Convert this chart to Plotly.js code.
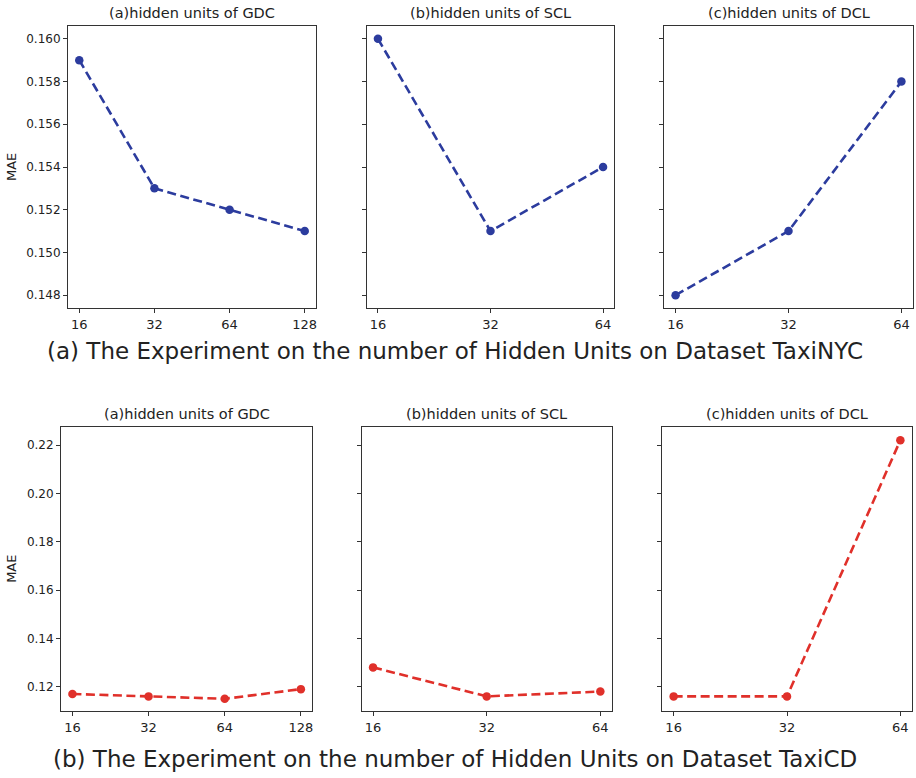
<!DOCTYPE html>
<html>
<head>
<meta charset="utf-8">
<script src="https://cdn.plot.ly/plotly-3.0.1.min.js"></script>
<style>html,body{margin:0;padding:0;background:#fff;}#chart{width:916px;height:778px;}</style>
</head>
<body>
<div id="chart"></div>
<script>
// ---- data ----
const unitsGDC = ["16", "32", "64", "128"];
const unitsSCL = ["16", "32", "64"];
const unitsDCL = ["16", "32", "64"];

const nycGDC = [0.159, 0.153, 0.152, 0.151];
const nycSCL = [0.160, 0.151, 0.154];
const nycDCL = [0.148, 0.151, 0.158];

const cdGDC = [0.117, 0.116, 0.115, 0.119];
const cdSCL = [0.128, 0.116, 0.118];
const cdDCL = [0.116, 0.116, 0.222];

const panelTitles = ["(a)hidden units of GDC", "(b)hidden units of SCL", "(c)hidden units of DCL"];
const captionA = "(a) The Experiment on the number of Hidden Units on Dataset TaxiNYC";
const captionB = "(b) The Experiment on the number of Hidden Units on Dataset TaxiCD";
const yTicksNYC = [0.148, 0.150, 0.152, 0.154, 0.156, 0.158, 0.160];
const yTicksCD = [0.12, 0.14, 0.16, 0.18, 0.20, 0.22];

// ---- layout helpers ----
const W = 916, H = 778;
const px = x => x / W;
const py = y => 1 - y / H;
const BLUE = "#2c3c9e", RED = "#e0302a";
const FONT = "DejaVu Sans";

const panels = [
  {cats: unitsGDC, vals: nycGDC, color: BLUE, xd: [68, 316], yd: [26, 308], row: 0, first: true},
  {cats: unitsSCL, vals: nycSCL, color: BLUE, xd: [366.7, 614.3], yd: [26, 308], row: 0},
  {cats: unitsDCL, vals: nycDCL, color: BLUE, xd: [664.3, 912.7], yd: [26, 308], row: 0},
  {cats: unitsGDC, vals: cdGDC, color: RED, xd: [61, 312.3], yd: [426.7, 711], row: 1, first: true},
  {cats: unitsSCL, vals: cdSCL, color: RED, xd: [361.7, 611.7], yd: [426.7, 711], row: 1},
  {cats: unitsDCL, vals: cdDCL, color: RED, xd: [662.3, 911.7], yd: [426.7, 711], row: 1}
];

const traces = [];
const layout = {
  width: W, height: H,
  margin: {l: 0, r: 0, t: 0, b: 0},
  paper_bgcolor: "#fff", plot_bgcolor: "#fff",
  showlegend: false,
  font: {family: FONT, color: "#222"},
  annotations: []
};

panels.forEach((p, i) => {
  const n = i + 1;
  const xa = n === 1 ? "x" : "x" + n;
  const ya = n === 1 ? "y" : "y" + n;
  const idx = p.cats.map((_, k) => k);
  traces.push({
    type: "scatter", mode: "lines+markers",
    x: idx, y: p.vals, xaxis: xa, yaxis: ya,
    line: {color: p.color, width: 2.6, dash: "9px,4.5px"},
    marker: {color: p.color, size: 8.5},
    hoverinfo: "skip"
  });
  const nc = p.cats.length - 1;
  const ax = {
    domain: [px(p.xd[0]), px(p.xd[1])],
    anchor: ya,
    range: [-0.05 * nc, nc + 0.05 * nc],
    tickmode: "array", tickvals: idx, ticktext: p.cats,
    ticks: "outside", ticklen: 4, tickwidth: 1, tickcolor: "#333",
    showgrid: false, zeroline: false,
    showline: true, mirror: true, linecolor: "#333", linewidth: 1,
    tickfont: {family: FONT, size: 13, color: "#222"},
    fixedrange: true
  };
  const yRange = p.row === 0 ? [0.1474, 0.1606] : [0.10995, 0.2276];
  const ay = {
    domain: [py(p.yd[1]), py(p.yd[0])],
    anchor: xa,
    range: yRange,
    tickmode: "array",
    tickvals: p.row === 0 ? yTicksNYC : yTicksCD,
    ticktext: (p.row === 0 ? yTicksNYC.map(v => v.toFixed(3)) : yTicksCD.map(v => v.toFixed(2))),
    showticklabels: !!p.first,
    ticks: "outside", ticklen: 4, tickwidth: 1, tickcolor: "#333",
    showgrid: false, zeroline: false,
    showline: true, mirror: true, linecolor: "#333", linewidth: 1,
    tickfont: {family: FONT, size: 12, color: "#222"},
    fixedrange: true
  };
  layout[n === 1 ? "xaxis" : "xaxis" + n] = ax;
  layout[n === 1 ? "yaxis" : "yaxis" + n] = ay;

  layout.annotations.push({
    xref: "paper", yref: "paper",
    x: px((p.xd[0] + p.xd[1]) / 2), y: py(p.yd[0] - 3),
    xanchor: "center", yanchor: "bottom",
    text: panelTitles[i % 3], showarrow: false,
    font: {family: FONT, size: 14.5, color: "#222"}
  });
  if (p.first) {
    layout.annotations.push({
      xref: "paper", yref: "paper",
      x: px(12), y: py((p.yd[0] + p.yd[1]) / 2),
      xanchor: "center", yanchor: "middle", textangle: -90,
      text: "MAE", showarrow: false,
      font: {family: FONT, size: 13, color: "#222"}
    });
  }
});

layout.annotations.push({
  xref: "paper", yref: "paper", x: px(455), y: py(351),
  xanchor: "center", yanchor: "middle", showarrow: false,
  text: captionA, font: {family: FONT, size: 23, color: "#222"}
});
layout.annotations.push({
  xref: "paper", yref: "paper", x: px(455), y: py(759),
  xanchor: "center", yanchor: "middle", showarrow: false,
  text: captionB, font: {family: FONT, size: 23, color: "#222"}
});

Plotly.newPlot("chart", traces, layout, {displayModeBar: false, staticPlot: true});
</script>
</body>
</html>
